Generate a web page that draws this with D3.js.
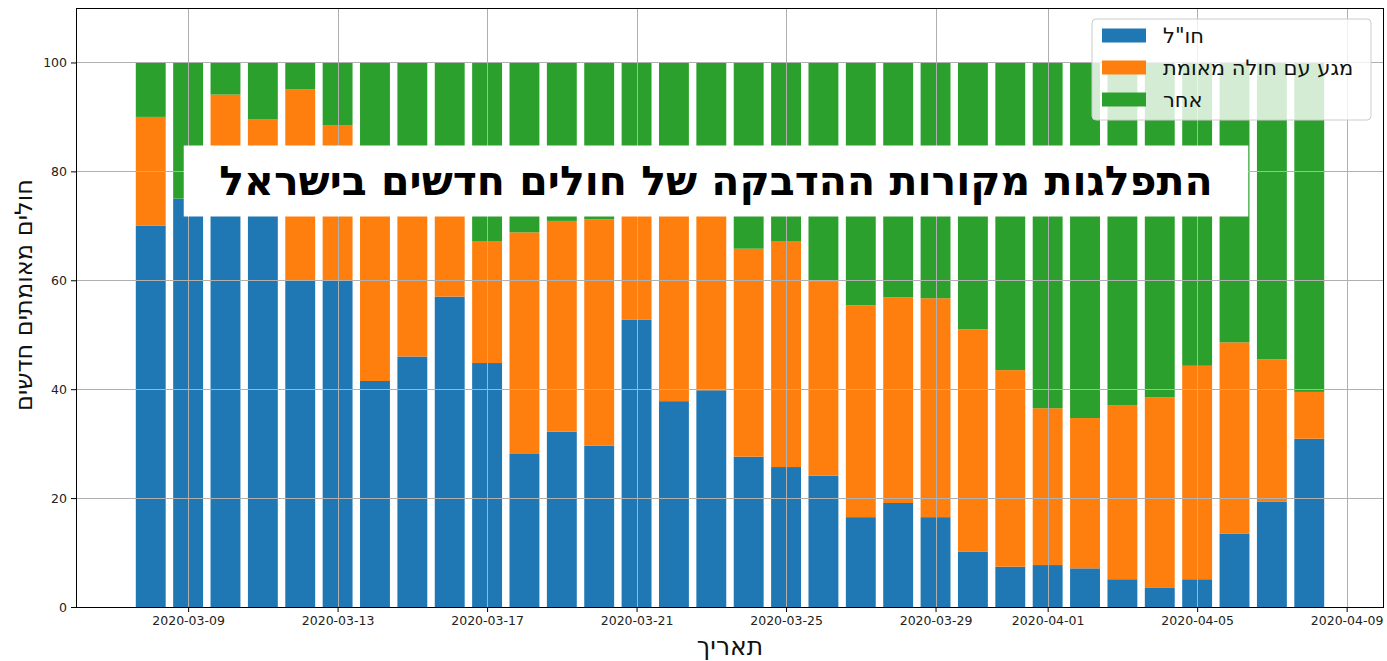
<!DOCTYPE html>
<html>
<head>
<meta charset="utf-8">
<script src="https://cdn.jsdelivr.net/npm/d3@7"></script>
<style>
  body { margin: 0; background: #fff; }
  svg { display: block; font-family: "DejaVu Sans", sans-serif; }
  .tick text { fill: #222; }
</style>
</head>
<body>
<svg id="chart" width="1387" height="661"></svg>
<script>
// daily share (%) of new confirmed cases by infection source
const dates = [
  "2020-03-08", "2020-03-09", "2020-03-10", "2020-03-11", "2020-03-12", "2020-03-13",
  "2020-03-14", "2020-03-15", "2020-03-16", "2020-03-17", "2020-03-18", "2020-03-19",
  "2020-03-20", "2020-03-21", "2020-03-22", "2020-03-23", "2020-03-24", "2020-03-25",
  "2020-03-26", "2020-03-27", "2020-03-28", "2020-03-29", "2020-03-30", "2020-03-31",
  "2020-04-01", "2020-04-02", "2020-04-03", "2020-04-04", "2020-04-05", "2020-04-06",
  "2020-04-07", "2020-04-08"
];
const abroad = [70, 75, 78, 76, 60, 60, 41.5, 46, 57, 44.8, 28.1, 32.2, 29.6, 52.8, 37.8, 39.8,
  27.6, 25.7, 24.1, 16.5, 19.1, 16.5, 10.2, 7.4, 7.7, 7.1, 5.1, 3.6, 5.1, 13.5, 19.3, 30.9];
const contact = [20, 0, 16.1, 13.6, 35.1, 28.5, 36.5, 29, 16, 22.3, 40.7, 38.7, 41.6, 22.2, 37.2, 35.2,
  38.2, 41.4, 35.7, 38.9, 37.8, 40.2, 40.8, 36.1, 28.8, 27.6, 31.9, 34.9, 39.2, 35.1, 26.2, 8.6];
const other = [10, 25, 5.9, 10.4, 4.9, 11.5, 22, 25, 27, 32.9, 31.2, 29.1, 28.8, 25, 25, 25,
  34.2, 32.9, 40.2, 44.6, 43.1, 43.3, 49, 56.5, 63.5, 65.3, 63, 61.5, 55.7, 51.4, 54.5, 60.5];

const seriesNames = ['חו"ל', "מגע עם חולה מאומת", "אחר"];
const seriesColors = ["#1f77b4", "#ff7f0e", "#2ca02c"];
const xTicks = ["2020-03-09", "2020-03-13", "2020-03-17", "2020-03-21", "2020-03-25",
  "2020-03-29", "2020-04-01", "2020-04-05", "2020-04-09"];
const yTicks = [0, 20, 40, 60, 80, 100];

const titleText = "התפלגות מקורות ההדבקה של חולים חדשים בישראל";
const xLabel = "תאריך";
const yLabel = "חולים מאומתים חדשים";

const parse = d3.utcParse("%Y-%m-%d");
const DAY = 864e5;

const svg = d3.select("#chart");
const margin = { left: 76, right: 3, top: 8, bottom: 54 };
const W = 1387, H = 661;
const iw = W - margin.left - margin.right;
const ih = H - margin.top - margin.bottom;

const x = d3.scaleUtc()
  .domain([parse("2020-03-06"), parse("2020-04-10")])
  .range([0, iw]);
const y = d3.scaleLinear().domain([0, 110]).range([ih, 0]);

const rows = dates.map((d, i) => ({ date: parse(d), a: abroad[i], c: contact[i], o: other[i] }));
const stacked = d3.stack().keys(["a", "c", "o"])(rows);

const g = svg.append("g").attr("transform", `translate(${margin.left},${margin.top})`);

const left = d => x(new Date(d.getTime() - 0.4 * DAY));
const right = d => x(new Date(d.getTime() + 0.4 * DAY));

// bars
g.selectAll("g.layer")
  .data(stacked)
  .join("g")
  .attr("class", "layer")
  .attr("fill", (d, i) => seriesColors[i])
  .selectAll("rect")
  .data(d => d)
  .join("rect")
  .attr("x", d => left(d.data.date))
  .attr("width", d => right(d.data.date) - left(d.data.date))
  .attr("y", d => y(d[1]))
  .attr("height", d => y(d[0]) - y(d[1]));

// grid (drawn above the bars like the original)
const grid = g.append("g").attr("stroke", "#b0b0b0").attr("stroke-width", 1);
grid.selectAll("line.v")
  .data(xTicks.map(parse))
  .join("line")
  .attr("x1", d => Math.round(x(d)) + 0.5).attr("x2", d => Math.round(x(d)) + 0.5)
  .attr("y1", 0).attr("y2", ih);
grid.selectAll("line.h")
  .data(yTicks)
  .join("line")
  .attr("x1", 0).attr("x2", iw)
  .attr("y1", d => Math.round(y(d)) + 0.5).attr("y2", d => Math.round(y(d)) + 0.5);

// axes
const xAxis = g.append("g")
  .attr("transform", `translate(0,${ih})`)
  .call(d3.axisBottom(x).tickValues(xTicks.map(parse))
    .tickFormat(d3.utcFormat("%Y-%m-%d")).tickSize(5).tickPadding(4).tickSizeOuter(0));
const yAxis = g.append("g")
  .call(d3.axisLeft(y).tickValues(yTicks).tickSize(5).tickPadding(4).tickSizeOuter(0));
[xAxis, yAxis].forEach(a => {
  a.select(".domain").remove();
  a.selectAll("text").attr("font-size", 12.5).attr("font-family", "DejaVu Sans");
});

// frame
g.append("rect")
  .attr("x", 0.5).attr("y", 0.5).attr("width", iw - 1).attr("height", ih)
  .attr("fill", "none").attr("stroke", "#000").attr("stroke-width", 1);

// axis labels
svg.append("text")
  .attr("x", margin.left + iw / 2).attr("y", 655)
  .attr("text-anchor", "middle").attr("font-size", 25).attr("fill", "#111")
  .text(xLabel);
svg.append("text")
  .attr("transform", "translate(32,295) rotate(-90)")
  .attr("text-anchor", "middle").attr("font-size", 24).attr("fill", "#111")
  .text(yLabel);

// title box inside the plot
const tcx = 716, tcy = 181;
const tbox = svg.append("rect").attr("fill", "#fff");
const title = svg.append("text")
  .attr("x", tcx).attr("y", tcy)
  .attr("text-anchor", "middle").attr("dominant-baseline", "central")
  .attr("font-size", 41).attr("font-weight", "bold").attr("fill", "#000")
  .text(titleText);
const tw = title.node().getComputedTextLength();
tbox.attr("x", tcx - tw / 2 - 35.5).attr("y", tcy - 35.5)
  .attr("width", tw + 71).attr("height", 71);

// legend
const lg = svg.append("g").attr("transform", "translate(1092,19)");
lg.append("rect")
  .attr("width", 279).attr("height", 101).attr("rx", 4)
  .attr("fill", "#fff").attr("fill-opacity", 0.8)
  .attr("stroke", "#cccccc").attr("stroke-width", 1);
seriesNames.forEach((name, i) => {
  const row = lg.append("g").attr("transform", `translate(10,${16.5 + i * 32})`);
  row.append("rect").attr("x", 0).attr("y", -7).attr("width", 44).attr("height", 14)
    .attr("fill", seriesColors[i]);
  row.append("text").attr("x", 61).attr("y", 0)
    .attr("dominant-baseline", "central")
    .attr("font-size", 21).attr("fill", "#111")
    .text(name);
});
</script>
</body>
</html>
